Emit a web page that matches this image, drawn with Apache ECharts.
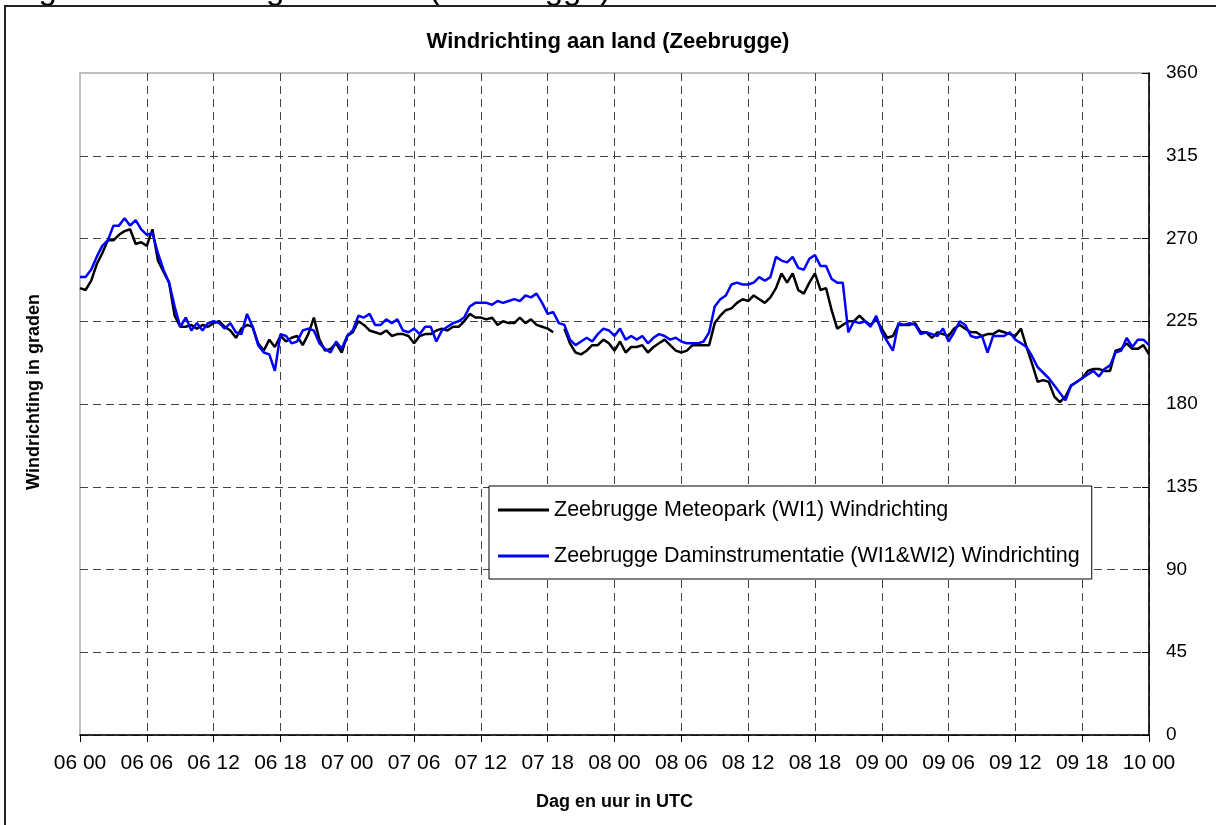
<!DOCTYPE html>
<html>
<head>
<meta charset="utf-8">
<title>Windrichting aan land (Zeebrugge)</title>
<script src="https://cdn.jsdelivr.net/npm/echarts@6/dist/echarts.min.js"></script>
<style>
  html, body { margin: 0; padding: 0; background: #fff; }
  #chart { width: 1216px; height: 825px; }
</style>
</head>
<body>
<div id="chart"></div>
<script>
// tijdstap tussen de metingen in uren (06 00 = uur 0)
var STEP = 0.5
var tickLabels = ['06 00', '06 06', '06 12', '06 18', '07 00', '07 06', '07 12', '07 18',
  '08 00', '08 06', '08 12', '08 18', '09 00', '09 06', '09 12', '09 18', '10 00']
var yTicks = [0, 45, 90, 135, 180, 225, 270, 315, 360]

// Zeebrugge Meteopark (WI1) Windrichting, elke 30 min
var meteopark = [
  243, 242, 247, 256, 262, 269, 269, 272, 274, 275, 267, 268,
  266, 275, 258, 252, 246, 228, 222, 222, 223, 221, 223, 222,
  224, 225, 222, 220, 216, 221, 223, 222, 213, 209, 215, 211,
  217, 214, 216, 217, 212, 218, 227, 215, 209, 210, 213, 208,
  217, 219, 225, 223, 220, 219, 218, 220, 217, 218, 218, 217,
  213, 217, 218, 218, 220, 221, 220, 222, 222, 225, 229, 227,
  227, 226, 227, 223, 225, 224, 224, 227, 224, 226, 223, 222,
  221, 219, null, 221, 213, 208, 207, 209, 212, 212, 215, 213,
  209, 214, 208, 211, 211, 212, 208, 211, 213, 215, 212, 209,
  208, 209, 212, 212, 212, 212, 224, 228, 231, 232, 235, 237,
  236, 239, 237, 235, 238, 243, 251, 246, 251, 242, 240, 246,
  251, 242, 243, 231, 221, 223, 225, 225, 228, 225, 223, 226,
  221, 216, 217, 223, 223, 223, 224, 219, 219, 216, 219, 218,
  217, 221, 223, 221, 219, 219, 217, 218, 218, 220, 219, 218,
  217, 221, 211, 202, 192, 193, 192, 184, 181, 184, 190, 192,
  194, 198, 199, 199, 198, 198, 209, 210, 213, 210, 210, 212,
  207
]

// Zeebrugge Daminstrumentatie (WI1&WI2) Windrichting, elke 30 min
var daminstr = [
  249, 249, 253, 260, 266, 269, 277, 277, 281, 277, 280, 275,
  272, 273, 262, 253, 246, 233, 222, 227, 220, 224, 220, 224,
  225, 224, 221, 224, 219, 218, 229, 222, 212, 208, 207, 198,
  218, 217, 213, 214, 220, 221, 220, 213, 210, 208, 214, 210,
  217, 220, 228, 227, 229, 223, 223, 226, 224, 226, 220, 219,
  221, 218, 222, 222, 214, 220, 222, 224, 225, 227, 233, 235,
  235, 235, 234, 236, 235, 236, 237, 236, 239, 238, 240, 235,
  229, 230, 224, 223, 215, 212, 214, 216, 214, 218, 221, 220,
  217, 221, 215, 217, 215, 217, 213, 216, 218, 217, 215, 216,
  214, 213, 213, 213, 214, 219, 233, 237, 239, 245, 246, 245,
  245, 246, 249, 247, 249, 260, 258, 257, 260, 254, 253, 259,
  261, 255, 255, 248, 246, 246, 219, 225, 224, 225, 222, 228,
  219, 214, 209, 224, 223, 224, 223, 218, 219, 218, 217, 221,
  214, 219, 225, 223, 217, 216, 217, 208, 217, 217, 217, 219,
  215, 213, 211, 206, 200, 197, 194, 190, 186, 182, 190, 192,
  194, 196, 198, 195, 199, 201, 208, 209, 216, 211, 215, 215,
  212
]

var FONT = '"Liberation Sans", Arial, sans-serif'

function toPoints (arr) {
  return arr.map(function (v, i) { return [i * STEP, v] })
}

var chart = echarts.init(document.getElementById('chart'), null, { renderer: 'canvas' })

var option = {
  animation: false,
  backgroundColor: '#fff',
  title: {
    text: 'Windrichting aan land (Zeebrugge)',
    left: 'center',
    top: 26,
    textStyle: { fontFamily: FONT, fontSize: 22, fontWeight: 'bold', color: '#000' }
  },
  graphic: [
    {
      // afgesneden onderschrift boven de figuur
      type: 'text',
      left: 11,
      top: -27,
      style: { text: 'Fig 3: Windrichting aan land (Zeebrugge)', font: '33px ' + FONT, fill: '#000' }
    },
    {
      type: 'rect',
      shape: { x: 5, y: 6, width: 1400, height: 1000 },
      style: { fill: null, stroke: '#222', lineWidth: 2 },
      silent: true
    },
    {
      type: 'text',
      x: 34,
      y: 392,
      rotation: Math.PI / 2,
      style: {
        text: 'Windrichting in graden',
        font: 'bold 18px ' + FONT,
        fill: '#000',
        align: 'center',
        verticalAlign: 'middle'
      }
    }
  ],
  legend: {
    left: 489,
    top: 486,
    orient: 'vertical',
    backgroundColor: '#fff',
    borderColor: '#000',
    borderWidth: 1,
    padding: [13, 12, 12, 9],
    itemGap: 24,
    itemWidth: 51,
    itemHeight: 3,
    icon: 'rect',
    textStyle: { fontFamily: FONT, fontSize: 21.5, color: '#000' },
    data: ['Zeebrugge Meteopark (WI1) Windrichting', 'Zeebrugge Daminstrumentatie (WI1&WI2) Windrichting']
  },
  grid: {
    left: 80,
    top: 73,
    right: 67,
    bottom: 90,
    show: true,
    borderColor: '#c0c0c0',
    borderWidth: 2,
    containLabel: false
  },
  xAxis: {
    type: 'value',
    min: 0,
    max: 96,
    interval: 6,
    name: 'Dag en uur in UTC',
    nameLocation: 'middle',
    nameGap: 58,
    nameTextStyle: { fontFamily: FONT, fontSize: 18, fontWeight: 'bold', color: '#000' },
    axisLine: { show: true, onZero: false, lineStyle: { color: '#000', width: 1.5 } },
    axisTick: { show: true, inside: false, length: 7, lineStyle: { color: '#000' } },
    axisLabel: {
      margin: 18,
      fontFamily: FONT,
      fontSize: 21,
      color: '#000',
      formatter: function (v) { return tickLabels[Math.round(v / 6)] }
    },
    splitLine: {
      show: true,
      showMinLine: false,
      lineStyle: { color: '#444', width: 1, type: [8, 5] }
    }
  },
  yAxis: {
    type: 'value',
    position: 'right',
    min: yTicks[0],
    max: yTicks[yTicks.length - 1],
    interval: 45,
    axisLine: { show: true, onZero: false, lineStyle: { color: '#000', width: 1.5 } },
    axisTick: { show: true, inside: true, length: 7, lineStyle: { color: '#000' } },
    axisLabel: { margin: 17, fontFamily: FONT, fontSize: 19, color: '#000' },
    splitLine: {
      show: true,
      showMaxLine: false,
      lineStyle: { color: '#444', width: 1, type: [8, 5] }
    }
  },
  series: [
    {
      name: 'Zeebrugge Meteopark (WI1) Windrichting',
      type: 'line',
      data: toPoints(meteopark),
      showSymbol: false,
      connectNulls: false,
      itemStyle: { color: '#000' },
      lineStyle: { color: '#000', width: 2.5 }
    },
    {
      name: 'Zeebrugge Daminstrumentatie (WI1&WI2) Windrichting',
      type: 'line',
      data: toPoints(daminstr),
      showSymbol: false,
      itemStyle: { color: '#0000ff' },
      lineStyle: { color: '#0000ff', width: 2.5 }
    }
  ]
}

chart.setOption(option)
</script>
</body>
</html>
